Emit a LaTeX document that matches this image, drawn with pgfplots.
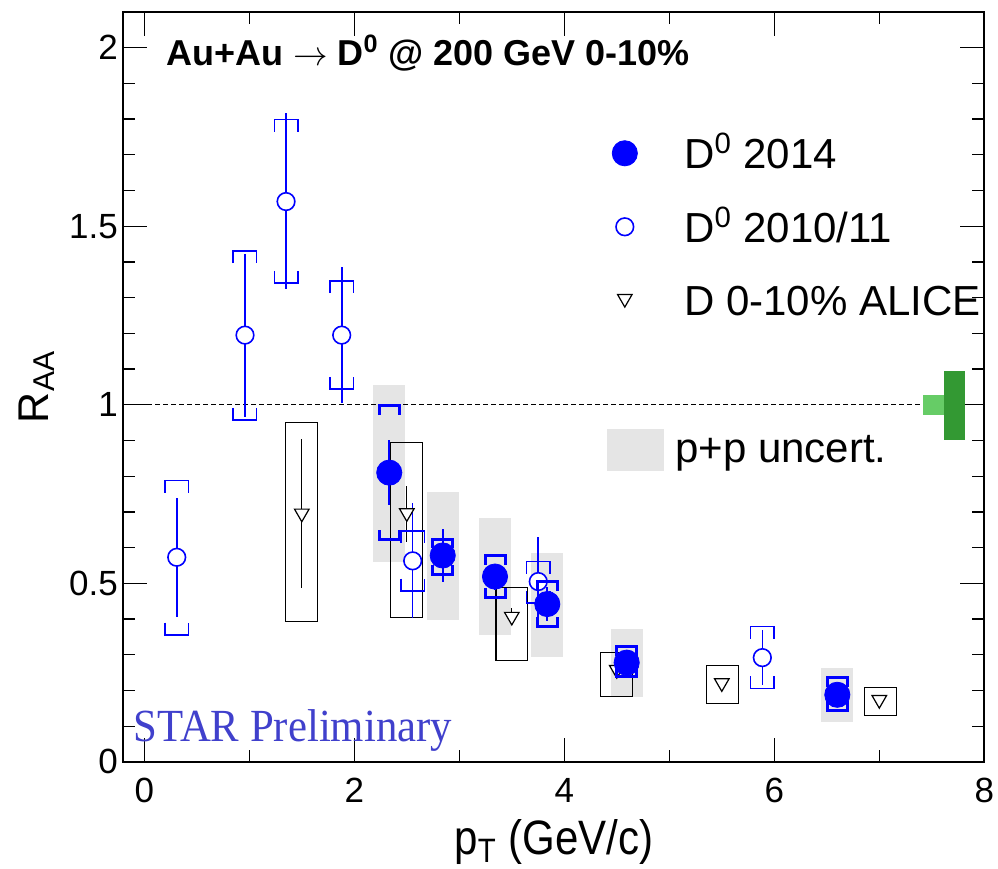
\documentclass[border=0pt]{standalone}
\usepackage{fontspec}
\setmainfont{Liberation Sans}
\newfontfamily\timesfont{Liberation Serif}
\usepackage{pgfplots}
\pgfplotsset{compat=1.18}
\usepackage{pgfplotstable}

\definecolor{ppgray}{gray}{0.9}
\definecolor{ltgreen}{rgb}{0.4,0.8,0.4}
\definecolor{dkgreen}{rgb}{0.2,0.6,0.2}
\definecolor{starblue}{rgb}{0.25,0.25,0.8}

% systematic brackets (2010/11: thin, 2014: thick)
\pgfdeclareplotmark{brtopA}{%
  \pgfpathmoveto{\pgfqpoint{-5.85pt}{-6.1pt}}\pgfpathlineto{\pgfqpoint{-5.85pt}{0pt}}%
  \pgfpathlineto{\pgfqpoint{5.85pt}{0pt}}\pgfpathlineto{\pgfqpoint{5.85pt}{-6.1pt}}\pgfusepathqstroke}
\pgfdeclareplotmark{brbotA}{%
  \pgfpathmoveto{\pgfqpoint{-5.85pt}{6.1pt}}\pgfpathlineto{\pgfqpoint{-5.85pt}{0pt}}%
  \pgfpathlineto{\pgfqpoint{5.85pt}{0pt}}\pgfpathlineto{\pgfqpoint{5.85pt}{6.1pt}}\pgfusepathqstroke}
\pgfdeclareplotmark{brtopB}{%
  \pgfpathmoveto{\pgfqpoint{-5pt}{-4.7pt}}\pgfpathlineto{\pgfqpoint{-5pt}{0pt}}%
  \pgfpathlineto{\pgfqpoint{5pt}{0pt}}\pgfpathlineto{\pgfqpoint{5pt}{-4.7pt}}\pgfusepathqstroke}
\pgfdeclareplotmark{brbotB}{%
  \pgfpathmoveto{\pgfqpoint{-5pt}{4.7pt}}\pgfpathlineto{\pgfqpoint{-5pt}{0pt}}%
  \pgfpathlineto{\pgfqpoint{5pt}{0pt}}\pgfpathlineto{\pgfqpoint{5pt}{4.7pt}}\pgfusepathqstroke}

% D0 2014: x, y, stat lo/hi, sys lo/hi, p+p (gray) lo/hi
\pgfplotstableread{
x     y     slo   shi   ylo   yhi   glo   ghi
2.333 0.810 0.720 0.900 0.622 0.997 0.561 1.055
2.842 0.578 0.505 0.652 0.526 0.624 0.398 0.756
3.340 0.519 0.480 0.555 0.460 0.578 0.354 0.683
3.838 0.442 0.395 0.490 0.379 0.505 0.295 0.586
4.594 0.278 0.250 0.305 0.238 0.322 0.182 0.372
6.600 0.188 0.165 0.210 0.143 0.235 0.113 0.263
}\dataA

% D0 2010/11: x, y, stat lo/hi, sys lo/hi
\pgfplotstableread{
x     y     slo   shi   ylo   yhi
0.309 0.573 0.407 0.738 0.356 0.788
0.959 1.195 0.966 1.422 0.957 1.431
1.350 1.569 1.324 1.817 1.341 1.799
1.880 1.195 1.005 1.386 1.044 1.347
2.556 0.563 0.403 0.725 0.479 0.647
3.752 0.505 0.380 0.629 0.445 0.561
5.886 0.292 0.216 0.370 0.206 0.379
}\dataB

% ALICE D 0-10%: x, y, stat lo/hi
\pgfplotstableread{
x   y     slo   shi
1.5 0.696 0.486 0.903
2.5 0.697 0.617 0.773
3.5 0.407 0.385 0.430
4.5 0.258 0.240 0.275
5.5 0.221 0.215 0.227
7.0 0.174 0.170 0.178
}\dataC

\begin{document}
\begin{tikzpicture}
\begin{axis}[
  scale only axis, width=430.5pt, height=375pt,
  xmin=-0.2, xmax=8, ymin=0, ymax=2.1,
  xtick={0,2,4,6,8}, minor xtick={1,3,5,7},
  ytick={0,0.5,1,1.5,2}, minor y tick num=4,
  tick align=inside,
  major tick length=12pt, minor tick length=6pt,
  every tick/.style={black, line width=0.6pt},
  axis line style={line width=1pt},
  /pgf/number format/assume math mode=true,
  ticklabel style={font=\fontsize{17.5}{20}\selectfont},
  xticklabel style={anchor=north, inner sep=0pt, yshift=-8pt},
  yticklabel style={anchor=east, inner sep=0pt, xshift=-2.5pt},
  xlabel={\scalebox{1}[1.15]{p\textsubscript{T} (GeV/c)}},
  ylabel={R\textsubscript{AA}},
  xlabel style={font=\fontsize{21}{25}\selectfont, at={(rel axis cs:0.5,-0.124)}, anchor=base},
  ylabel style={font=\fontsize{21.5}{25}\selectfont, at={(rel axis cs:-0.0869,0.5)}, anchor=base},
  legend cell align=left,
  legend style={at={(rel axis cs:0.5618,0.8405)}, anchor=north west, draw=none, fill=none,
    inner sep=0pt, row sep=0pt, column sep=10pt, font=\fontsize{21}{25}\selectfont,
    nodes={text height=18.375pt, text depth=18.375pt, inner sep=0pt}},
]
% p+p uncertainty (gray boxes)
\addplot[only marks, mark=none, forget plot, error bars/.cd, y dir=both, y explicit, error mark=none,
  error bar style={color=ppgray, line width=15.85pt}]
  table[x=x, y=y, y error plus expr=\thisrow{ghi}-\thisrow{y}, y error minus expr=\thisrow{y}-\thisrow{glo}] {\dataA};
% unity line
\addplot[black, line width=0.5pt, dash pattern=on 2.5pt off 1.5pt, forget plot] coordinates {(-0.2,1) (7.42,1)};
% normalisation boxes
\addplot[fill=ltgreen, draw=none, forget plot] coordinates {(7.42,0.971) (7.616,0.971) (7.616,1.027) (7.42,1.027)} -- cycle;
\addplot[fill=dkgreen, draw=none, forget plot] coordinates {(7.616,0.901) (7.816,0.901) (7.816,1.095) (7.616,1.095)} -- cycle;
% ALICE systematic boxes
\addplot[black, line width=0.6pt, forget plot] coordinates {(1.348,0.393) (1.652,0.393) (1.652,0.951) (1.348,0.951)} -- cycle;
\addplot[black, line width=0.6pt, forget plot] coordinates {(2.347,0.405) (2.649,0.405) (2.649,0.894) (2.347,0.894)} -- cycle;
\addplot[black, line width=0.6pt, forget plot] coordinates {(3.349,0.283) (3.651,0.283) (3.651,0.488) (3.349,0.488)} -- cycle;
\addplot[black, line width=0.6pt, forget plot] coordinates {(4.348,0.183) (4.652,0.183) (4.652,0.307) (4.348,0.307)} -- cycle;
\addplot[black, line width=0.6pt, forget plot] coordinates {(5.356,0.164) (5.660,0.164) (5.660,0.270) (5.356,0.270)} -- cycle;
\addplot[black, line width=0.6pt, forget plot] coordinates {(6.857,0.130) (7.163,0.130) (7.163,0.209) (6.857,0.209)} -- cycle;
% ALICE stat + points
\addplot[only marks, mark=none, forget plot, error bars/.cd, y dir=both, y explicit, error mark=none,
  error bar style={color=black, line width=0.6pt}]
  table[x=x, y=y, y error plus expr=\thisrow{shi}-\thisrow{y}, y error minus expr=\thisrow{y}-\thisrow{slo}] {\dataC};
\addplot[only marks, mark=triangle*, mark size=4.2pt, mark options={rotate=180, fill=white, draw=black, line width=0.6pt}, forget plot]
  table[x=x, y=y] {\dataC};
% D0 2010/11
\addplot[only marks, mark=none, forget plot, error bars/.cd, y dir=both, y explicit, error mark=none,
  error bar style={color=blue, line width=0.8pt}]
  table[x=x, y=y, y error plus expr=\thisrow{shi}-\thisrow{y}, y error minus expr=\thisrow{y}-\thisrow{slo}] {\dataB};
\addplot[only marks, mark=brtopA, blue, mark options={line width=0.8pt}, forget plot] table[x=x, y=yhi] {\dataB};
\addplot[only marks, mark=brbotA, blue, mark options={line width=0.8pt}, forget plot] table[x=x, y=ylo] {\dataB};
\addplot[only marks, mark=*, mark size=4.4pt, mark options={fill=white, draw=blue, line width=0.8pt}, forget plot]
  table[x=x, y=y] {\dataB};
% D0 2014
\addplot[only marks, mark=none, forget plot, error bars/.cd, y dir=both, y explicit, error mark=none,
  error bar style={color=blue, line width=1.1pt}]
  table[x=x, y=y, y error plus expr=\thisrow{shi}-\thisrow{y}, y error minus expr=\thisrow{y}-\thisrow{slo}] {\dataA};
\addplot[only marks, mark=*, mark size=6.3pt, blue, forget plot] table[x=x, y=y] {\dataA};
\addplot[only marks, mark=brtopB, blue, mark options={line width=1.5pt}, forget plot] table[x=x, y=yhi] {\dataA};
\addplot[only marks, mark=brbotB, blue, mark options={line width=1.5pt}, forget plot] table[x=x, y=ylo] {\dataA};

% legend
\addlegendimage{legend image code/.code={\path (0pt,0pt) (28pt,0pt);
  \draw[only marks, mark=*, mark size=6.3pt, blue] plot coordinates {(8.5pt,7.7pt)};}}
\addlegendentry{D\textsuperscript{0} 2014}
\addlegendimage{legend image code/.code={\path (0pt,0pt) (28pt,0pt);
  \draw[only marks, mark=*, mark size=4.4pt, mark options={fill=white, draw=blue, line width=0.8pt}] plot coordinates {(8.5pt,7.7pt)};}}
\addlegendentry{D\textsuperscript{0} 2010/11}
\addlegendimage{legend image code/.code={\path (0pt,0pt) (28pt,0pt);
  \draw[only marks, mark=triangle*, mark size=4.2pt, mark options={rotate=180, fill=white, draw=black, line width=0.6pt}] plot coordinates {(8.5pt,8.5pt)};}}
\addlegendentry{D 0-10\% ALICE}
\addlegendimage{legend image code/.code={\path (0pt,0pt) (28pt,0pt);}}
\addlegendentry{\phantom{D}}
\addlegendimage{legend image code/.code={\fill[ppgray] (0pt,-3.65pt) rectangle (28pt,16.85pt);}}
\addlegendentry{\hspace*{-4.5pt}p+p uncert.}

\node[anchor=base west, inner sep=0pt, font=\bfseries\fontsize{18}{22}\selectfont] at (axis cs:0.204,1.951)
  {Au+Au $\rightarrow$ D\textsuperscript{0} @ 200 GeV 0-10\%};
\node[anchor=base west, inner sep=0pt, font=\timesfont\fontsize{23}{27}\selectfont, text=starblue] at (axis cs:-0.106,0.057)
  {\scalebox{0.93}[1]{STAR Preliminary}};
\end{axis}
\path (current axis.south west) ++(-61.65pt,-53.5pt) coordinate (bbA);
\path (current axis.north east) ++(6.85pt,5.95pt) coordinate (bbB);
\pgfresetboundingbox
\path[use as bounding box] (bbA) rectangle (bbB);
\end{tikzpicture}
\end{document}
